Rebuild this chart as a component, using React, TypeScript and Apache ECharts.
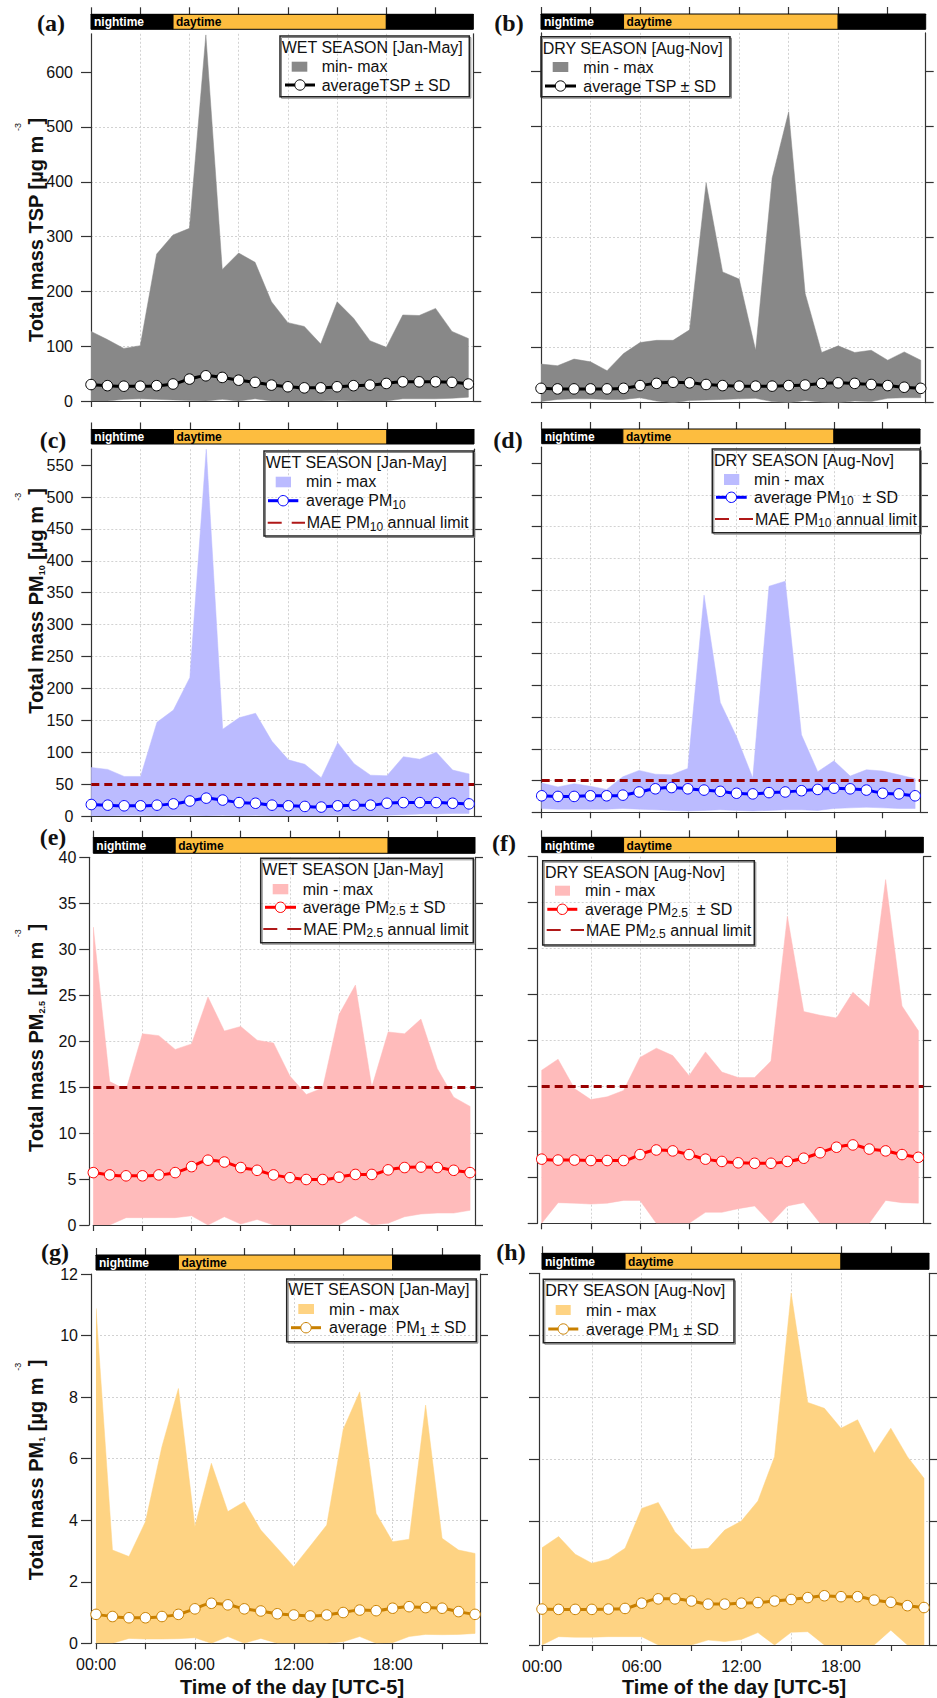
import React, { useEffect, useRef } from "react";
import * as echarts from "echarts";

// ---------------- data ----------------
const hours = [0, 1, 2, 3, 4, 5, 6, 7, 8, 9, 10, 11, 12, 13, 14, 15, 16, 17, 18, 19, 20, 21, 22, 23];
const xTicks = [0, 3, 6, 9, 12, 15, 18, 21];
const xLabelTicks = [0, 6, 12, 18];
const dayStart = 5;
const dayEnd = 18;

const tspTicks = [0, 100, 200, 300, 400, 500, 600];
const pm10Ticks = [0, 50, 100, 150, 200, 250, 300, 350, 400, 450, 500, 550];
const pm25Ticks = [0, 5, 10, 15, 20, 25, 30, 35, 40];
const pm1Ticks = [0, 2, 4, 6, 8, 10, 12];

const tspWetMax = [127, 112, 96, 101, 268, 303, 315, 668, 240, 270, 253, 181, 143, 136, 104, 181, 151, 110, 98, 157, 156, 169, 127, 114];
const tspWetMin = [0, 0, 3, 4, 3, 2, 1, 0, 3, 0, 4, 0, 0, 0, 0, 1, 0, 0, 0, 4, 4, 4, 5, 7];
const tspWetAvg = [30, 28, 27, 27, 28, 31, 40, 46, 43, 38, 34, 29, 26, 24, 24, 26, 28, 29, 32, 35, 35, 35, 34, 31];

const tspDryMax = [70, 67, 79, 74, 58, 89, 109, 113, 113, 132, 398, 237, 224, 95, 407, 527, 198, 91, 103, 91, 95, 77, 92, 77];
const tspDryMin = [2, 6, 7, 7, 6, 6, 9, 3, 0, 4, 5, 6, 7, 8, 2, 0, 4, 1, 0, 3, 2, 8, 9, 9];
const tspDryAvg = [26, 25, 25, 25, 25, 26, 31, 35, 37, 36, 33, 31, 30, 30, 30, 31, 32, 35, 36, 35, 33, 31, 28, 26];

const pm10WetMax = [76, 73, 62, 62, 147, 166, 217, 576, 136, 154, 161, 117, 88, 81, 60, 115, 82, 64, 63, 93, 89, 100, 72, 66];
const pm10WetMin = [0, 0, 1, 1, 0, 1, 1, 0, 1, 0, 1, 0, 0, 0, 0, 1, 0, 0, 1, 2, 3, 3, 4, 4];
const pm10WetAvg = [18, 17, 16, 16, 17, 19, 23.5, 28, 25, 21, 20, 17, 16, 15, 14, 16, 17, 17, 20, 21, 21, 21, 20, 19];

const pm10DryMax = [46, 40, 45, 41, 36, 56, 66, 60, 59, 69, 342, 173, 119, 54, 356, 364, 122, 64, 81, 57, 67, 65, 59, 53];
const pm10DryMin = [6, 5, 5, 5, 5, 6, 5, 4, 3, 2, 3, 4, 3, 2, 3, 4, 4, 3, 6, 7, 8, 7, 6, 6];
const pm10DryAvg = [26, 25, 25, 26, 26, 27, 32, 37, 39, 37, 35, 33, 30, 29, 31, 32, 34, 36, 38, 37, 35, 30, 29, 26];

const pm25WetMax = [32.4, 15.6, 14.7, 20.8, 20.6, 19.1, 19.7, 24.8, 21.1, 21.6, 20.1, 19.8, 16.2, 14.2, 14.9, 22.9, 26.1, 15.0, 21.0, 20.8, 22.4, 17.0, 13.9, 12.9];
const pm25WetMin = [0, 0, 0.8, 0.8, 0.8, 0.8, 1.0, 0, 0.9, 0.1, 0.6, 0, 0, 0, 0, 0, 1.0, 0, 0.2, 0.9, 1.2, 1.3, 1.3, 1.6];
const pm25WetAvg = [5.7, 5.45, 5.35, 5.35, 5.45, 5.7, 6.35, 7.05, 6.85, 6.25, 5.95, 5.45, 5.15, 4.95, 4.95, 5.2, 5.5, 5.5, 6.0, 6.25, 6.3, 6.25, 5.95, 5.7];

const pm25DryMax = [16.7, 17.9, 14.7, 13.5, 13.8, 14.5, 18.1, 19.1, 18.3, 16.1, 18.7, 16.5, 15.9, 15.9, 17.7, 33.5, 23.1, 22.7, 22.4, 25.2, 23.6, 37.5, 23.7, 21.0];
const pm25DryMin = [0, 2.25, 2.2, 2.1, 2.2, 2.5, 2.5, 0, 0, 0, 1.2, 1.2, 1.6, 1.9, 0, 1.9, 2.25, 0, 0, 0, 0, 2.5, 2.25, 2.2];
const pm25DryAvg = [7.0, 6.9, 6.9, 6.85, 6.85, 6.85, 7.5, 8.0, 7.9, 7.5, 7.0, 6.75, 6.6, 6.55, 6.55, 6.75, 7.1, 7.7, 8.3, 8.55, 8.1, 7.9, 7.5, 7.2];

const pm1WetMax = [10.88, 3.03, 2.82, 3.95, 6.39, 8.28, 3.79, 5.85, 4.28, 4.6, 3.68, 3.09, 2.49, 3.16, 3.84, 6.95, 8.17, 4.22, 3.3, 3.38, 7.74, 3.41, 3.03, 2.92];
const pm1WetMin = [0, 0, 0.16, 0.14, 0.14, 0.15, 0.18, 0, 0.22, 0, 0.16, 0, 0, 0, 0, 0.05, 0.22, 0, 0.02, 0.22, 0.29, 0.28, 0.29, 0.32];
const pm1WetAvg = [0.94, 0.87, 0.83, 0.83, 0.87, 0.94, 1.12, 1.3, 1.25, 1.12, 1.05, 0.96, 0.92, 0.89, 0.92, 1.0, 1.08, 1.06, 1.14, 1.19, 1.16, 1.14, 1.03, 0.94];

const pm1DryMax = [3.14, 3.5, 2.93, 2.64, 2.77, 3.12, 4.41, 4.6, 3.66, 3.09, 3.12, 3.71, 4.0, 4.65, 6.08, 11.36, 7.83, 7.64, 7.0, 7.27, 6.19, 7.0, 6.08, 5.38];
const pm1DryMin = [0, 0.27, 0.25, 0.25, 0.27, 0.27, 0.27, 0, 0, 0, 0.16, 0.11, 0.18, 0.4, 0, 0.41, 0.43, 0, 0, 0, 0, 0.48, 0, 0];
const pm1DryAvg = [1.16, 1.15, 1.15, 1.15, 1.16, 1.18, 1.35, 1.49, 1.49, 1.42, 1.32, 1.32, 1.35, 1.37, 1.42, 1.47, 1.53, 1.59, 1.56, 1.56, 1.45, 1.38, 1.27, 1.21];

const pm10Limit = 50;
const pm25Limit = 15;

// ---------------- styles / layout ----------------
const SANS = '"Liberation Sans", Arial, Helvetica, sans-serif';
const SERIF = '"Liberation Serif", "Times New Roman", Times, serif';
const X_MAX = 23.3;
const AXC = "#333333";
const GRIDC = "#d2d2d2";
const DAYC = "#fdbd3f";
const LIMC = "#990000";

const measures: any = {
  TSP: { max: 670, step: 100, ticks: tspTicks, fill: "#888888", line: "#000000" },
  PM10: { max: 575, step: 50, ticks: pm10Ticks, fill: "#bbbbff", line: "#0000ff" },
  PM25: { max: 40, step: 5, ticks: pm25Ticks, fill: "#ffbbbb", line: "#ff0000" },
  PM1: { max: 12, step: 2, ticks: pm1Ticks, fill: "#fed383", line: "#c98000" },
};

const panels: any[] = [
  {
    letter: "(a)", m: "TSP", min: tspWetMin, max: tspWetMax, avg: tspWetAvg, limit: null,
    grid: [91, 33.8, 382.3, 367.2], bar: [14.3, 15], yOff: 0, lblMargin: 18, showY: true, showX: false, letterPos: [51, 23],
    lg: { box: [280, 36, 189.3, 60.7], title: [281.7, 47.7, "WET SEASON [Jan-May]"], sq: [291.7, 61.7, 15.6, 10], mm: [321.7, 66.7, "min- max"], avgL: [285, 315, 85], avgT: [321.7, "averageTSP ± SD"] },
    yt: { x: 35.5, y: 230, text: "Total mass TSP [µg m  ]", exp: [18, 127] },
  },
  {
    letter: "(b)", m: "TSP", min: tspDryMin, max: tspDryMax, avg: tspDryAvg, limit: null,
    grid: [541, 32.9, 384.7, 369.8], bar: [14, 15.3], yOff: 0, lblMargin: 18, showY: false, showX: false, letterPos: [509, 23],
    lg: { box: [541, 36.7, 189, 60], title: [542.7, 48.3, "DRY SEASON [Aug-Nov]"], sq: [552.7, 62, 15.6, 10], mm: [583.3, 67, "min - max"], avgL: [545, 576, 86], avgT: [583.3, "average TSP ± SD"] },
  },
  {
    letter: "(c)", m: "PM10", min: pm10WetMin, max: pm10WetMax, avg: pm10WetAvg, limit: pm10Limit,
    grid: [91.3, 449.2, 382.7, 366.8], bar: [429.5, 14.5], yOff: 0, lblMargin: 18, showY: true, showX: false, letterPos: [53, 440],
    lg: { box: [264, 451, 209.3, 85], title: [265.7, 462.7, "WET SEASON [Jan-May]"], sq: [275.7, 476.7, 15.3, 10.6], mm: [306, 481.7, "min - max"], avgL: [268, 298.3, 500.7], avgT: [306, "average PM{s|10}"], limL: [267.7, 305, 522.7], limT: [306.7, "MAE PM{s|10} annual limit"] },
    yt: { x: 35.5, y: 601, text: "Total mass PM{s|10} [µg m  ]", exp: [18.3, 496.7] },
  },
  {
    letter: "(d)", m: "PM10", min: pm10DryMin, max: pm10DryMax, avg: pm10DryAvg, limit: pm10Limit,
    grid: [541.7, 447.2, 378.3, 365.1], bar: [429, 14.7], yOff: 0, lblMargin: 18, showY: false, showX: false, letterPos: [508, 440],
    lg: { box: [712.3, 449, 207.7, 83.7], title: [714, 460, "DRY SEASON [Aug-Nov]"], sq: [724, 474, 15.3, 11], mm: [754, 479, "min - max"], avgL: [716, 746.7, 497.3], avgT: [754, "average PM{s|10}  ± SD"], limL: [715, 753.3, 519], limT: [755, "MAE PM{s|10} annual limit"] },
  },
  {
    letter: "(e)", m: "PM25", min: pm25WetMin, max: pm25WetMax, avg: pm25WetAvg, limit: pm25Limit,
    grid: [93.3, 857.3, 381.7, 367.7], bar: [837.7, 15.6], yOff: 4, lblMargin: 13, showY: true, showX: false, letterPos: [53, 837],
    lg: { box: [260.7, 858.3, 212.6, 84.4], title: [262.3, 869.3, "WET SEASON [Jan-May]"], sq: [272.7, 884, 15.6, 10.3], mm: [302.7, 889, "min - max"], avgL: [265, 296, 907.3], avgT: [302.7, "average PM{s|2.5} ± SD"], limL: [263.3, 301.7, 929], limT: [303.3, "MAE PM{s|2.5} annual limit"] },
    yt: { x: 35.5, y: 1038, text: "Total mass PM{s|2.5} [µg m  ]", exp: [18.3, 933.3] },
  },
  {
    letter: "(f)", m: "PM25", min: pm25DryMin, max: pm25DryMax, avg: pm25DryAvg, limit: pm25Limit,
    grid: [541.7, 856.7, 381.6, 366.6], bar: [837.3, 15.4], yOff: 4, lblMargin: 13, showY: false, showX: false, letterPos: [504, 843],
    lg: { box: [542.7, 860.7, 211.6, 84.3], title: [545, 872.3, "DRY SEASON [Aug-Nov]"], sq: [555, 885.7, 15, 10], mm: [585, 890.7, "min - max"], avgL: [547.3, 577.3, 909.3], avgT: [585, "average PM{s|2.5}  ± SD"], limL: [546.7, 584, 930], limT: [586, "MAE PM{s|2.5} annual limit"] },
  },
  {
    letter: "(g)", m: "PM1", min: pm1WetMin, max: pm1WetMax, avg: pm1WetAvg, limit: null,
    grid: [96, 1274, 384, 369.3], bar: [1255, 15], yOff: 5, lblMargin: 13, showY: true, showX: true, letterPos: [55, 1252],
    lg: { box: [286.7, 1279, 189.6, 62.7], title: [288.3, 1289.3, "WET SEASON [Jan-May]"], sq: [298.3, 1304, 15.7, 10], mm: [329, 1309, "min - max"], avgL: [291, 321, 1327.7], avgT: [329, "average  PM{s|1} ± SD"] },
    yt: { x: 35.5, y: 1470, text: "Total mass PM{s|1} [µg m  ]", exp: [18.3, 1366.7] },
    xt: [292, 1687],
  },
  {
    letter: "(h)", m: "PM1", min: pm1DryMin, max: pm1DryMax, avg: pm1DryAvg, limit: null,
    grid: [542, 1273.3, 387, 371.7], bar: [1253.3, 16], yOff: 3, lblMargin: 13, showY: false, showX: true, letterPos: [511, 1252],
    lg: { box: [543.3, 1279.3, 190.7, 63.4], title: [545.3, 1290, "DRY SEASON [Aug-Nov]"], sq: [555.7, 1305, 15, 10], mm: [586, 1310, "min - max"], avgL: [548.3, 578.3, 1329], avgT: [586, "average PM{s|1} ± SD"] },
    xt: [734, 1686.7],
  },
];

function legendText(x: number, y: number, text: string) {
  return {
    type: "text",
    x,
    y,
    z: 100,
    silent: true,
    style: {
      text,
      font: `16px ${SANS}`,
      fill: "#111",
      align: "left",
      verticalAlign: "middle",
      lineHeight: 20,
      rich: {
        s: { fontSize: 12, fontFamily: SANS, lineHeight: 12, verticalAlign: "bottom", fill: "#111" },
      },
    },
  };
}

function buildOption() {
  const grid: any[] = [];
  const xAxis: any[] = [];
  const yAxis: any[] = [];
  const series: any[] = [];
  const elements: any[] = [];

  panels.forEach((P, p) => {
    const M = measures[P.m];
    const gi = 2 * p;
    const bgi = 2 * p + 1;
    grid.push({ left: P.grid[0], top: P.grid[1], width: P.grid[2], height: P.grid[3], containLabel: false, outerBoundsMode: "none" });
    grid.push({ left: P.grid[0], top: P.bar[0], width: P.grid[2], height: P.bar[1], containLabel: false, outerBoundsMode: "none" });

    xAxis.push({
      gridIndex: gi,
      type: "value",
      min: 0,
      max: X_MAX,
      interval: 3,
      position: "bottom",
      axisLine: { show: true, onZero: false, lineStyle: { color: AXC, width: 1.2 } },
      axisTick: { show: true, customValues: xTicks, length: 6, lineStyle: { color: AXC, width: 1.2 } },
      axisLabel: {
        show: P.showX,
        customValues: xLabelTicks,
        formatter: (v: number) => (v < 10 ? "0" : "") + v + ":00",
        fontSize: 16,
        fontFamily: SANS,
        color: "#111",
        margin: 13,
      },
      splitLine: { show: true, showMinLine: false, showMaxLine: false, lineStyle: { color: GRIDC, width: 1, type: [2, 2] } },
    });
    xAxis.push({
      gridIndex: bgi,
      type: "value",
      min: 0,
      max: X_MAX,
      interval: 3,
      position: "top",
      axisLine: { show: true, onZero: false, lineStyle: { color: AXC, width: 1.2 } },
      axisTick: { show: true, customValues: xTicks, length: 7, lineStyle: { color: AXC, width: 1.2 } },
      axisLabel: { show: false },
      splitLine: { show: false },
    });

    yAxis.push({
      gridIndex: gi,
      type: "value",
      min: 0,
      max: M.max,
      interval: M.step,
      position: "left",
      offset: P.yOff,
      axisLine: { show: true, onZero: false, lineStyle: { color: AXC, width: 1.2 } },
      axisTick: { show: true, customValues: M.ticks, length: 10, lineStyle: { color: AXC, width: 1.2 } },
      axisLabel: {
        show: P.showY,
        customValues: M.ticks,
        fontSize: 16,
        fontFamily: SANS,
        color: "#111",
        margin: P.lblMargin,
      },
      splitLine: { show: true, showMinLine: false, showMaxLine: false, lineStyle: { color: GRIDC, width: 1, type: [2, 2] } },
    });
    yAxis.push({
      gridIndex: gi,
      type: "value",
      min: 0,
      max: M.max,
      interval: M.step,
      position: "right",
      axisLine: { show: true, onZero: false, lineStyle: { color: AXC, width: 1.2 } },
      axisTick: { show: true, customValues: M.ticks, length: 8, lineStyle: { color: AXC, width: 1.2 } },
      axisLabel: { show: false },
      splitLine: { show: false },
    });
    yAxis.push({ gridIndex: bgi, type: "value", min: 0, max: 1, show: false });

    const xi = 2 * p;
    const yi = 3 * p;

    // min-max band as a single polygon through the axis scales
    const bandData = hours.map((h, i) => [h, P.min[i], P.max[i]]);
    const bandSeries: any = {
      type: "custom",
      xAxisIndex: xi,
      yAxisIndex: yi,
      data: bandData,
      silent: true,
      clip: true,
      z: 2,
      encode: { x: 0, y: [1, 2] },
      renderItem: (params: any, api: any) => {
        if (params.dataIndex !== 0) return null;
        const upper = bandData.map((d) => api.coord([d[0], d[2]]));
        const lower = bandData.map((d) => api.coord([d[0], d[1]])).reverse();
        return {
          type: "polygon",
          shape: { points: upper.concat(lower) },
          style: { fill: M.fill, stroke: M.fill, lineWidth: 0.5 },
        };
      },
    };
    if (P.limit !== null) {
      bandSeries.markLine = {
        silent: true,
        symbol: "none",
        label: { show: false },
        lineStyle: { color: LIMC, width: 3, type: [8, 5] },
        data: [{ yAxis: P.limit }],
      };
    }
    series.push(bandSeries);

    series.push({
      type: "line",
      xAxisIndex: xi,
      yAxisIndex: yi,
      data: hours.map((h, i) => [h, P.avg[i]]),
      symbol: "circle",
      symbolSize: 10.5,
      smooth: 0.3,
      itemStyle: { color: "#ffffff", borderColor: M.line, borderWidth: 1 },
      lineStyle: { color: M.line, width: 3 },
      silent: true,
      z: 5,
    });

    // night/day bar
    const periods = [
      [0, dayStart, 0],
      [dayStart, dayEnd, 1],
      [dayEnd, X_MAX, 0],
    ];
    series.push({
      type: "custom",
      xAxisIndex: 2 * p + 1,
      yAxisIndex: 3 * p + 2,
      data: periods,
      silent: true,
      z: 3,
      renderItem: (params: any, api: any) => {
        const s = api.value(0);
        const e = api.value(1);
        const isDay = api.value(2) === 1;
        const p0 = api.coord([s, 1]);
        const p1 = api.coord([e, 0]);
        const txt = isDay ? "daytime" : params.dataIndex === 0 ? "nightime" : "";
        return {
          type: "group",
          children: [
            {
              type: "rect",
              shape: { x: p0[0], y: p0[1], width: p1[0] - p0[0], height: p1[1] - p0[1] },
              style: { fill: isDay ? DAYC : "#000000", stroke: "#000000", lineWidth: 1 },
            },
            {
              type: "text",
              style: {
                text: txt,
                x: p0[0] + 3,
                y: (p0[1] + p1[1]) / 2 + 0.5,
                align: "left",
                verticalAlign: "middle",
                fill: isDay ? "#000000" : "#ffffff",
                font: `bold 12px ${SANS}`,
              },
            },
          ],
        };
      },
    });

    elements.push({
      type: "text",
      x: P.letterPos[0],
      y: P.letterPos[1],
      z: 100,
      silent: true,
      style: { text: P.letter, font: `bold 24px ${SERIF}`, fill: "#111", align: "center", verticalAlign: "middle" },
    });

    const L = P.lg;
    elements.push({
      type: "rect",
      z: 98,
      silent: true,
      shape: { x: L.box[0] + 1.5, y: L.box[1] + 1.5, width: L.box[2], height: L.box[3] },
      style: { fill: "rgba(255,255,255,0)", stroke: "#888", lineWidth: 1 },
    });
    elements.push({
      type: "rect",
      z: 99,
      silent: true,
      shape: { x: L.box[0], y: L.box[1], width: L.box[2], height: L.box[3] },
      style: { fill: "rgba(255,255,255,0)", stroke: "#222", lineWidth: 1.5 },
    });
    elements.push(legendText(L.title[0], L.title[1], L.title[2]));
    elements.push({
      type: "rect",
      z: 100,
      silent: true,
      shape: { x: L.sq[0], y: L.sq[1], width: L.sq[2], height: L.sq[3] },
      style: { fill: M.fill },
    });
    elements.push(legendText(L.mm[0], L.mm[1], L.mm[2]));
    elements.push({
      type: "line",
      z: 100,
      silent: true,
      shape: { x1: L.avgL[0], y1: L.avgL[2], x2: L.avgL[1], y2: L.avgL[2] },
      style: { stroke: M.line, lineWidth: 3 },
    });
    elements.push({
      type: "circle",
      z: 101,
      silent: true,
      shape: { cx: (L.avgL[0] + L.avgL[1]) / 2, cy: L.avgL[2], r: 5.2 },
      style: { fill: "#fff", stroke: M.line, lineWidth: 1 },
    });
    elements.push(legendText(L.avgT[0], L.avgL[2], L.avgT[1]));
    if (L.limL) {
      elements.push({
        type: "line",
        z: 100,
        silent: true,
        shape: { x1: L.limL[0], y1: L.limL[2], x2: L.limL[1], y2: L.limL[2] },
        style: { stroke: "#b01818", lineWidth: 2, lineDash: [14, 10] },
      });
      elements.push(legendText(L.limT[0], L.limL[2], L.limT[1]));
    }

    if (P.yt) {
      elements.push({
        type: "text",
        x: P.yt.x,
        y: P.yt.y,
        rotation: Math.PI / 2,
        z: 100,
        silent: true,
        style: {
          text: P.yt.text,
          font: `bold 20px ${SANS}`,
          fill: "#111",
          align: "center",
          verticalAlign: "middle",
          lineHeight: 22,
          rich: {
            s: { fontSize: 9, fontWeight: "bold", fontFamily: SANS, lineHeight: 9, verticalAlign: "bottom", fill: "#111" },
          },
        },
      });
      elements.push({
        type: "text",
        x: P.yt.exp[0],
        y: P.yt.exp[1],
        rotation: Math.PI / 2,
        z: 100,
        silent: true,
        style: { text: "-3", font: `9px ${SANS}`, fill: "#111", align: "center", verticalAlign: "middle" },
      });
    }
    if (P.xt) {
      elements.push({
        type: "text",
        x: P.xt[0],
        y: P.xt[1],
        z: 100,
        silent: true,
        style: { text: "Time of the day [UTC-5]", font: `bold 20px ${SANS}`, fill: "#111", align: "center", verticalAlign: "middle" },
      });
    }
  });

  return {
    animation: false,
    backgroundColor: "#ffffff",
    grid,
    xAxis,
    yAxis,
    series,
    graphic: { elements },
  };
}

export default function App() {
  const ref = useRef<HTMLDivElement>(null);
  useEffect(() => {
    if (!ref.current) return;
    const chart = echarts.init(ref.current, null, { renderer: "svg" });
    chart.setOption(buildOption() as any);
    return () => {
      chart.dispose();
    };
  }, []);
  return (
    <div
      ref={ref}
      style={{ position: "absolute", left: 0, top: 0, width: 937, height: 1698, background: "#fff" }}
    />
  );
}
